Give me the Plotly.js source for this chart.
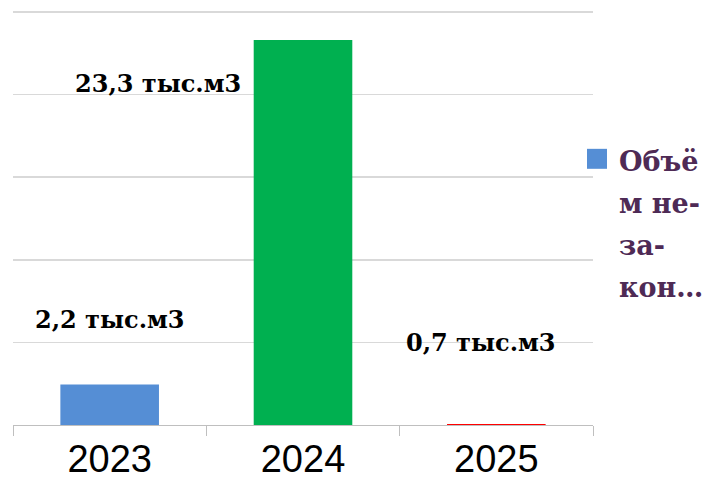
<!DOCTYPE html>
<html>
<head>
<meta charset="utf-8">
<script src="https://cdn.plot.ly/plotly-3.0.1.min.js"></script>
<style>
  html, body { margin: 0; padding: 0; background: #fff; }
  #chart { width: 713px; height: 481px; }
</style>
</head>
<body>
<div id="chart"></div>
<script>
// ---- data ----
const years = ['2023', '2024', '2025'];
const values = [2.45, 23.3, 0.06];
const valueLabels = ['2,2 тыс.м3', '23,3 тыс.м3', '0,7 тыс.м3'];
const seriesName = 'Объём незаконно';
const legendLines = ['Объё', 'м не-', 'за-', 'кон…'];

// ---- styles / placement ----
const barColors = ['#558ED5', '#00B050', '#FF0000'];
const labelFont = { family: 'DejaVu Serif', size: 24, color: '#000000', weight: 'bold' };
const legendFont = { family: 'DejaVu Serif', size: 27, color: '#4E2A55', weight: 'bold' };
// label anchor positions (category index offset, y value)
const labelPlace = [[0, 6.4], [0.25, 20.7], [1.92, 5.0]];

const plotT = 6, plotB = 425.5, plotL = 13, plotR = 593;
const yMax = 25 + (12 - plotT) / ((plotB - 12) / 25);
const plotW = plotR - plotL, plotH = plotB - plotT;
function px2paperX(px) { return (px - plotL) / plotW; }
function px2paperY(py) { return (plotB - py) / plotH; }

const trace = {
  type: 'bar',
  x: years,
  y: values,
  name: seriesName,
  marker: { color: barColors, line: { width: 0 } },
  hoverinfo: 'skip',
  showlegend: false
};

const annotations = valueLabels.map((t, i) => ({
  x: labelPlace[i][0], y: labelPlace[i][1],
  xref: 'x', yref: 'y',
  text: '<b>' + t + '</b>',
  showarrow: false,
  xanchor: 'center', yanchor: 'middle',
  font: labelFont
}));

legendLines.forEach((t, i) => {
  annotations.push({
    x: px2paperX(617), y: px2paperY(162 + i * 42),
    xref: 'paper', yref: 'paper',
    text: '<b>' + t + '</b>',
    showarrow: false,
    xanchor: 'left', yanchor: 'middle',
    font: legendFont
  });
});

const layout = {
  width: 713, height: 481,
  margin: { l: plotL, r: 713 - plotR, t: plotT, b: 481 - plotB, pad: 0 },
  paper_bgcolor: '#ffffff',
  plot_bgcolor: '#ffffff',
  showlegend: false,
  bargap: 0.49,
  xaxis: {
    type: 'category',
    tickson: 'boundaries',
    ticks: 'outside',
    ticklen: 10,
    tickcolor: '#BFBFBF',
    tickwidth: 1,
    showline: true,
    linecolor: '#BFBFBF',
    linewidth: 1,
    showgrid: false,
    tickfont: { family: 'Liberation Sans', size: 38, color: '#000000' },
    ticklabelstandoff: 0,
    fixedrange: true
  },
  yaxis: {
    range: [0, yMax],
    tick0: 0,
    dtick: 5,
    showticklabels: false,
    showgrid: true,
    gridcolor: '#D9D9D9',
    gridwidth: 1.5,
    zeroline: false,
    ticks: '',
    fixedrange: true
  },
  annotations: annotations,
  shapes: [{
    type: 'rect', xref: 'paper', yref: 'paper',
    x0: px2paperX(587), x1: px2paperX(607),
    y0: px2paperY(169), y1: px2paperY(149),
    fillcolor: barColors[0], line: { width: 0 }
  }]
};

Plotly.newPlot('chart', [trace], layout, { displayModeBar: false, staticPlot: true });
</script>
</body>
</html>
